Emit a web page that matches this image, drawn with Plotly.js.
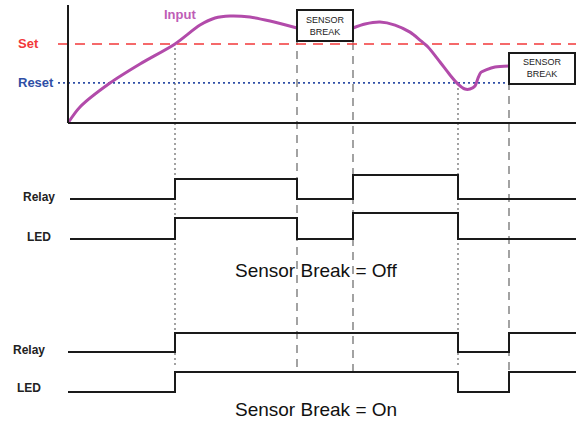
<!DOCTYPE html>
<html>
<head>
<meta charset="utf-8">
<script src="https://cdn.plot.ly/plotly-3.0.1.min.js"></script>
<style>html,body{margin:0;padding:0;background:#fff;}#chart{width:576px;height:422px;}</style>
</head>
<body>
<div id="chart"></div>
<script>
// ---------- data ----------
// input signal (time, level 0-100)
const inputTime  = [68, 80, 110, 140, 175, 200, 215, 230, 250, 270, 297, null, 353, 365, 380, 395, 410, 420, 428, 440, 450, 458, 465, 470, 475, 478, 481, 486, 495, 509];
const inputLevel = [0, 13.6, 33.9, 50, 67, 83, 89, 90.7, 89.8, 86.4, 80.5, null, 80.5, 83.9, 85.6, 83, 77, 70.3, 64.4, 51.7, 40.7, 33, 28.8, 28.8, 31.4, 38, 43, 45, 47.5, 48.3];
const setLevel = 67;
const resetLevel = 34;
const thresholdTime = [58, 576];

// events
const setTime = 175;
const break1Start = 297;
const break1End = 353;
const resetTime = 458;
const break2Start = 509;
const break2End = 575;

// digital outputs (transition times, state)
const relayOffTime = [70, 175, 297, 353, 458, 576];
const relayOffState = [0, 1, 0, 1.2, 0, 0];
const ledOffTime = [70, 175, 297, 353, 458, 576];
const ledOffState = [0, 1, 0, 1.24, 0, 0];
const relayOnTime = [68, 175, 458, 509, 576];
const relayOnState = [0, 1, 0, 1, 1];
const ledOnTime = [68, 175, 458, 509, 576];
const ledOnState = [0, 1, 0, 1, 1];

const labels = {input: 'Input', set: 'Set', reset: 'Reset', relay: 'Relay', led: 'LED',
  brk: 'SENSOR<br>BREAK', off: 'Sensor Break = Off', on: 'Sensor Break = On'};

// ---------- layout helpers ----------
const H = 422, W = 576;
const FONT = 'Liberation Sans, Arial, sans-serif';
function paperY(px){ return 1 - px / H; }
// axis mapping: value v0 at pixel p0, v1 at pixel p1; range [rMin,rMax]
function domFor(p0, v0, p1, v1, rMin, rMax){
  const k = (p1 - p0) / (v1 - v0);
  const pa = p0 + (rMin - v0) * k, pb = p0 + (rMax - v0) * k;
  return [Math.max(0, paperY(pa)), Math.min(1, paperY(pb))];
}
const inRange = [-10, 104];
const inDom = domFor(123, 0, 5, 100, inRange[0], inRange[1]);
function inPaper(v){ return inDom[0] + (v - inRange[0]) / (inRange[1] - inRange[0]) * (inDom[1] - inDom[0]); }
const sRange = [-1, 2.2];
function sigDom(low, high){ return domFor(low, 0, high, 1, sRange[0], sRange[1]); }

const BLACK = '#1a1a1a';
const sig = (x, y, ya) => ({x, y, yaxis: ya, type: 'scatter', mode: 'lines',
  line: {shape: 'hv', color: BLACK, width: 2}, hoverinfo: 'skip'});

const traces = [
  {x: thresholdTime, y: [setLevel, setLevel], yaxis: 'y', mode: 'lines',
   line: {color: '#F2383A', width: 1.6, dash: '10px,7px'}, hoverinfo: 'skip'},
  {x: thresholdTime, y: [resetLevel, resetLevel], yaxis: 'y', mode: 'lines',
   line: {color: '#2F4FA6', width: 1.6, dash: '2px,3px'}, hoverinfo: 'skip'},
  {x: inputTime, y: inputLevel, yaxis: 'y', mode: 'lines', connectgaps: false,
   line: {color: '#B24BAA', width: 3, shape: 'spline', smoothing: 0.8}, hoverinfo: 'skip'},
  sig(relayOffTime, relayOffState, 'y2'),
  sig(ledOffTime, ledOffState, 'y3'),
  sig(relayOnTime, relayOnState, 'y4'),
  sig(ledOnTime, ledOnState, 'y5'),
];

const hid = {visible: false, fixedrange: true};
const GRAY = '#8c8c8c';
function vline(x, y0, y1, dash){
  return {type: 'line', xref: 'x', yref: 'paper', x0: x, x1: x, y0: y0, y1: y1,
    line: {color: GRAY, width: 1.6, dash: dash}, layer: 'below'};
}
const DASHED = '8px,6px', DOTTED = '2px,3px';
const box1Lo = 69.5, box1Hi = 95.8, box2Lo = resetLevel - 0.9, box2Hi = 59.3;

const shapes = [
  // axes of input chart
  {type: 'line', xref: 'x', yref: 'y', x0: 68, x1: 68, y0: 0, y1: 100, line: {color: BLACK, width: 2}},
  {type: 'line', xref: 'x', yref: 'y', x0: 68, x1: W, y0: 0, y1: 0, line: {color: BLACK, width: 2}},
  vline(setTime, paperY(365), inPaper(setLevel), DOTTED),
  vline(break1Start, paperY(367), inPaper(box1Lo), DASHED),
  vline(break1End, paperY(372), inPaper(box1Lo), DASHED),
  vline(resetTime, paperY(365), inPaper(resetLevel), DOTTED),
  vline(break2Start, paperY(370), inPaper(box2Lo), DASHED),
  {type: 'rect', xref: 'x', yref: 'y', x0: break1Start, x1: break1End, y0: box1Lo, y1: box1Hi,
   fillcolor: '#fff', line: {color: BLACK, width: 2}, layer: 'above'},
  {type: 'rect', xref: 'x', yref: 'y', x0: break2Start, x1: break2End, y0: box2Lo, y1: box2Hi,
   fillcolor: '#fff', line: {color: BLACK, width: 2}, layer: 'above'},
];

function ann(text, x, py, size, color, bold, extra){
  return Object.assign({text: bold ? '<b>' + text + '</b>' : text, xref: 'x', yref: 'paper',
    x: x, y: paperY(py), showarrow: false, xanchor: 'center', yanchor: 'middle',
    font: {family: FONT, size: size, color: color}}, extra || {});
}
const annotations = [
  ann(labels.input, 180, 15, 13, '#BE5DB6', true),
  ann(labels.set, 28, 44, 13, '#F2383A', true),
  ann(labels.reset, 35.5, 83, 13, '#2F4FA6', true),
  ann(labels.brk, (break1Start + break1End) / 2, 26, 9, '#222', false),
  ann(labels.brk, (break2Start + break2End) / 2, 68, 9, '#222', false),
  ann(labels.relay, 38.5, 197, 12, '#222', true),
  ann(labels.led, 38.5, 237, 12, '#222', true),
  ann(labels.off, 316, 270, 19, '#111', false),
  ann(labels.relay, 28.5, 350, 12, '#222', true),
  ann(labels.led, 29, 388, 12, '#222', true),
  ann(labels.on, 316, 409, 19, '#111', false),
];

const layout = {
  width: W, height: H, margin: {l: 0, r: 0, t: 0, b: 0},
  paper_bgcolor: '#fff', plot_bgcolor: 'rgba(0,0,0,0)', showlegend: false,
  font: {family: FONT},
  xaxis: Object.assign({range: [0, W], domain: [0, 1]}, hid),
  yaxis: Object.assign({range: inRange, domain: inDom, anchor: 'x'}, hid),
  yaxis2: Object.assign({range: sRange, domain: sigDom(199, 179), anchor: 'x'}, hid),
  yaxis3: Object.assign({range: sRange, domain: sigDom(239, 218), anchor: 'x'}, hid),
  yaxis4: Object.assign({range: sRange, domain: sigDom(352, 333), anchor: 'x'}, hid),
  yaxis5: Object.assign({range: sRange, domain: sigDom(392, 372), anchor: 'x'}, hid),
  shapes: shapes, annotations: annotations,
};

Plotly.newPlot('chart', traces, layout, {staticPlot: true, displayModeBar: false});
</script>
</body>
</html>
